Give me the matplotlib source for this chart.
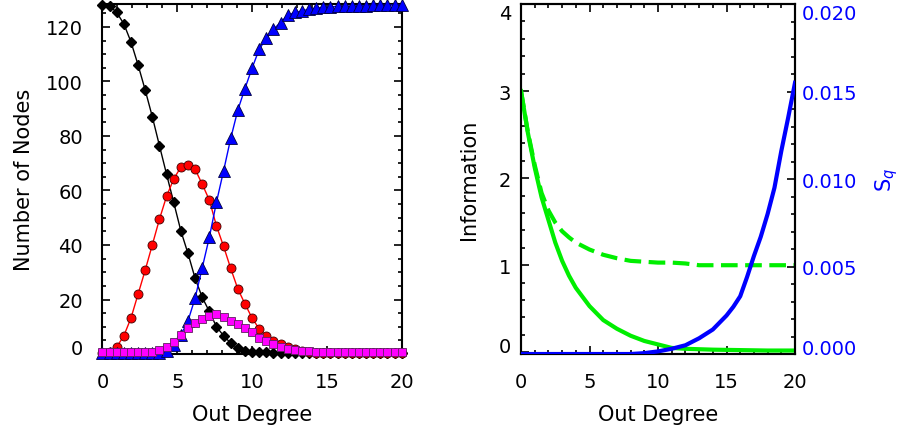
import numpy as np
from matplotlib import rc
from matplotlib.pyplot import figure
from matplotlib.ticker import MultipleLocator

rc('font', family='DejaVu Sans')

# left panel: number of nodes vs out degree (43 samples from 0 to 20)
out_degree = np.linspace(0, 20, 43)
black_nodes = [128, 127.7, 125.3, 121.1, 114.5, 106, 96.8, 87, 76.4, 65.9,
               55.6, 45.2, 36.9, 27.8, 20.8, 15.6, 10, 6.7, 4.0, 2.1,
               1.2, 0.8, 0.6, 0.6, 0.5, 0.5] + [0.5] * 17
red_nodes = [0.5, 0.8, 2.6, 6.7, 13.2, 22, 30.8, 40.1, 49.5, 57.9,
             64.2, 68.6, 69.4, 67.8, 62.3, 56.5, 47, 39.5, 31.4, 23.9,
             18.4, 13.2, 9.2, 6.5, 4.9, 3.7, 2.6, 1.8, 1.1, 0.7,
             0.5, 0.4] + [0.3] * 11
blue_nodes = [0.3, 0.3, 0.3, 0.3, 0.3, 0.3, 0.3, 0.3, 0.4, 1.1,
              3.3, 7.0, 12.1, 20.5, 31.6, 42.8, 55.7, 67.2, 79.1, 89.5,
              97.4, 104.9, 111.8, 115.8, 119.2, 121.6, 124.3, 125.3, 125.9, 126.5,
              126.9, 127.2, 127.4, 127.5, 127.6, 127.7, 127.8, 127.8, 127.9, 127.9,
              128, 128, 128]
magenta_nodes = [0.7, 0.7, 0.7, 0.7, 0.7, 0.7, 0.7, 0.9, 1.3, 2.6,
                 4.4, 6.9, 9.5, 11.2, 12.8, 13.9, 14.7, 13.6, 12.2, 10.9,
                 9.4, 7.9, 6.0, 4.8, 3.6, 2.6, 1.7, 1.3, 1.1, 1.0] + [0.9] * 13

# right panel: information and S_q vs out degree
k_info = [0, 0.5, 1, 1.5, 2, 2.5, 3, 3.5, 4, 5, 6, 7, 8, 9, 10, 11, 12, 13, 14, 16, 18, 20]
info_solid = [3.0, 2.52, 2.12, 1.78, 1.52, 1.26, 1.05, 0.88, 0.74, 0.53, 0.37, 0.27,
              0.19, 0.13, 0.09, 0.05, 0.04, 0.035, 0.03, 0.025, 0.02, 0.02]
info_dashed = [3.0, 2.53, 2.15, 1.83, 1.63, 1.49, 1.39, 1.32, 1.26, 1.18, 1.12, 1.08,
               1.05, 1.04, 1.03, 1.03, 1.02, 1.0, 1.0, 1.0, 1.0, 1.0]
k_sq = [0, 8, 9, 10, 11, 12, 13, 14, 14.5, 15, 15.5, 16, 16.5, 17, 17.5,
        18, 18.5, 19, 19.5, 20]
s_q = [0, 0, 0.00005, 0.00015, 0.0003, 0.0005, 0.0009, 0.0014, 0.0018, 0.0022,
       0.0027, 0.0033, 0.0044, 0.0056, 0.0067, 0.0080, 0.0095, 0.0116, 0.0135, 0.0155]

tick_size = 14
label_size = 15


def style_axis(ax, ypad):
    for s in ax.spines.values():
        s.set_linewidth(1.5)
    ax.tick_params(which='both', direction='in', top=True, right=True,
                   labelsize=tick_size, width=1.2)
    ax.tick_params(which='major', length=6)
    ax.tick_params(which='minor', length=3)
    ax.tick_params(axis='x', pad=13)
    ax.tick_params(axis='y', pad=ypad)


def nudge_end_labels(ax, low, high):
    # IDL style: end labels pulled inside the axis range
    for tick in ax.yaxis.get_major_ticks():
        loc = tick.get_loc()
        if low is not None and abs(loc - low) < 1e-9:
            tick.label1.set_va('baseline')
            tick.label2.set_va('baseline')
        if high is not None and abs(loc - high) < 1e-9:
            tick.label1.set_va('top')
            tick.label2.set_va('top')


fig = figure(figsize=(9.03, 4.31), dpi=100)

ax1 = fig.add_axes([0.1135, 0.1763, 0.3313, 0.812])
ax1.plot(out_degree, black_nodes, '-', color='black', lw=1, marker='D', ms=5.5,
         mfc='black', mec='black', clip_on=False, zorder=3)
ax1.plot(out_degree, red_nodes, '-', color='red', lw=1, marker='o', ms=6.5,
         mfc='red', mec='#400000', mew=0.6, clip_on=False, zorder=4)
ax1.plot(out_degree, blue_nodes, '-', color='blue', lw=1, marker='^', ms=8,
         mfc='blue', mec='#000040', mew=0.6, clip_on=False, zorder=5)
ax1.plot(out_degree, magenta_nodes, '-', color='magenta', lw=1, marker='s', ms=5.5,
         mfc='magenta', mec='#602060', mew=0.6, clip_on=False, zorder=6)
ax1.set_xlim(0, 20)
ax1.set_ylim(0, 128.4)
ax1.xaxis.set_major_locator(MultipleLocator(5))
ax1.xaxis.set_minor_locator(MultipleLocator(1))
ax1.yaxis.set_major_locator(MultipleLocator(20))
ax1.yaxis.set_minor_locator(MultipleLocator(5))
style_axis(ax1, 14)
ax1.set_xlabel('Out Degree', fontsize=label_size, labelpad=9)
ax1.set_ylabel('Number of Nodes', fontsize=label_size, labelpad=9)

ax2 = fig.add_axes([0.577, 0.1763, 0.3034, 0.812])
ax2.plot(k_info, info_solid, '-', color='#00ee00', lw=3, zorder=3)
ax2.plot(k_info, info_dashed, color='#00ee00', lw=3, ls=(0, (4, 1.8)), zorder=3)
ax2.set_xlim(0, 20)
ax2.set_ylim(-0.02, 4)
ax2.xaxis.set_major_locator(MultipleLocator(5))
ax2.xaxis.set_minor_locator(MultipleLocator(1))
ax2.yaxis.set_major_locator(MultipleLocator(1))
ax2.yaxis.set_minor_locator(MultipleLocator(0.2))
style_axis(ax2, 7)
ax2.tick_params(right=False, which='both')
ax2.set_xlabel('Out Degree', fontsize=label_size, labelpad=9)
ax2.set_ylabel('Information', fontsize=label_size, labelpad=14)

ax3 = ax2.twinx()
ax3.plot(k_sq, s_q, '-', color='blue', lw=3, zorder=4)
ax3.set_ylim(0, 0.02)
ax3.yaxis.set_major_locator(MultipleLocator(0.005))
ax3.yaxis.set_minor_locator(MultipleLocator(0.001))
ax3.yaxis.set_major_formatter('{x:.3f}')
ax3.tick_params(which='both', direction='in', labelsize=tick_size, width=1.2,
                labelcolor='blue', pad=5)
ax3.tick_params(which='major', length=6)
ax3.tick_params(which='minor', length=3)
for s in ax3.spines.values():
    s.set_linewidth(1.5)
ax3.set_ylabel('S$_q$', fontsize=label_size, color='blue', labelpad=11)

fig.canvas.draw()
nudge_end_labels(ax1, 0, None)
nudge_end_labels(ax2, 0, 4)
nudge_end_labels(ax3, 0, 0.02)

fig.savefig('out.png', dpi=100)
